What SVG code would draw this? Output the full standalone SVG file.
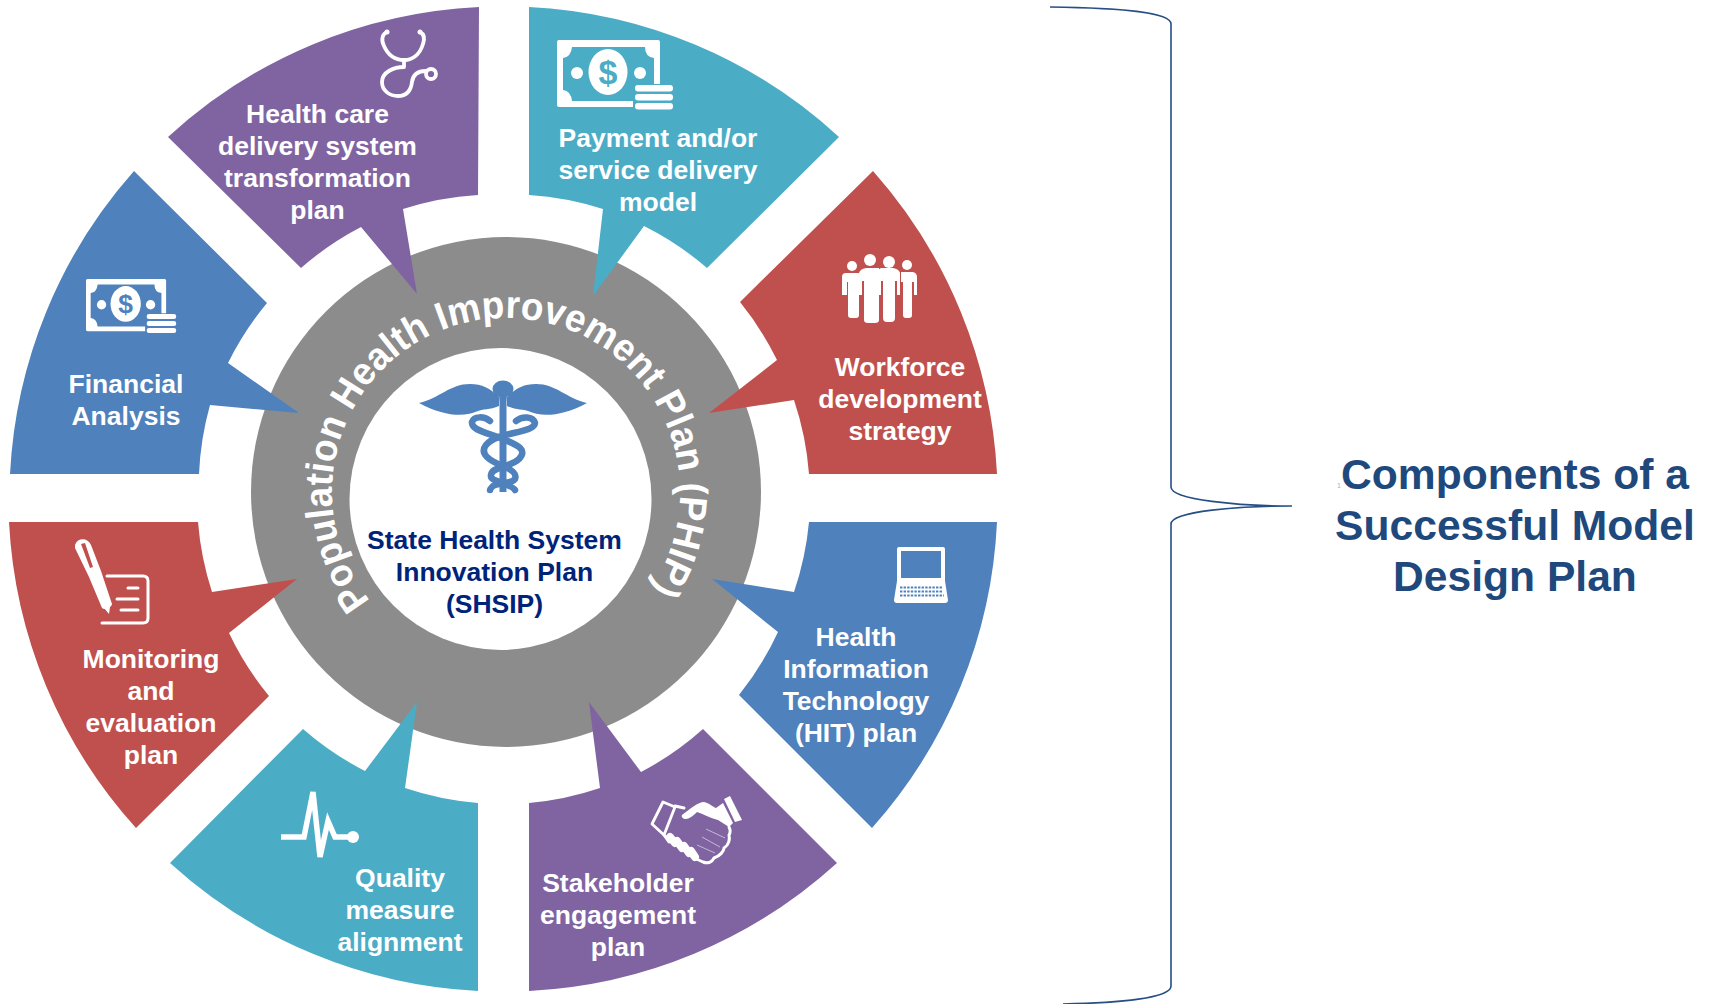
<svg xmlns="http://www.w3.org/2000/svg" xmlns:xlink="http://www.w3.org/1999/xlink" width="1709" height="1004" viewBox="0 0 1709 1004">
<style>
text{font-family:"Liberation Sans",Arial,sans-serif;font-weight:700}
.l{fill:#fff;font-size:26.5px;text-anchor:middle}
.c{fill:#00237a;font-size:26.5px;text-anchor:middle}
.r{fill:#1f497d;font-size:42.6px;text-anchor:middle}
.ic{fill:none;stroke:#fff;stroke-linecap:round;stroke-linejoin:round}
.w{fill:#fff}
.sn{fill:none;stroke:#4f81bd;stroke-width:6.500;stroke-linecap:round}
</style>
<defs>
<symbol id="money" viewBox="0 0 117 68" overflow="visible">
<rect x="0" y="0" width="103" height="67" rx="2" fill="#fff"/>
<path fill="currentColor" d="M15,7 H88 Q88,17 97,18 V50 H80 V61 H15 Q14,51 6,50 V18 Q14,17 15,7Z"/>
<ellipse cx="51" cy="32" rx="19.500" ry="23" fill="#fff"/>
<circle cx="20" cy="33" r="6" fill="#fff"/>
<circle cx="83" cy="33" r="6" fill="#fff"/>
<text x="51" y="44" text-anchor="middle" font-size="34" style="fill:currentColor">$</text>
<rect x="76" y="44" width="41" height="24" fill="currentColor"/>
<rect x="78" y="45" width="38" height="6.500" rx="3" fill="#fff"/>
<rect x="78" y="54" width="38" height="6.500" rx="3" fill="#fff"/>
<rect x="78" y="63" width="38" height="6.500" rx="3" fill="#fff"/>
</symbol>
</defs>
<rect width="1709" height="1004" fill="#fff"/>

<g id="hub">
<circle cx="506" cy="492" r="255" fill="#8c8c8c"/>
<circle cx="500.500" cy="499" r="151" fill="#fff"/>
<path id="arc" d="M370.400,601 A174 174 0 1 1 617.800,625.300" fill="none"/>
<text fill="#fff" font-size="39"><textPath href="#arc" xlink:href="#arc" textLength="766" lengthAdjust="spacingAndGlyphs">Population Health Improvement Plan (PHIP)</textPath></text>
<g id="caduceus" fill="#4f81bd">
<path d="M419,403 C440,398 450,384 470,384 C482,384 490,388 499,397 L499,406 C490,410 482,409 478,411 C465,417 445,417 419,403Z"/>
<path d="M587,403 C566,398 556,384 536,384 C524,384 516,388 507,397 L507,406 C516,410 524,409 528,411 C541,417 561,417 587,403Z"/>
<ellipse cx="503" cy="389" rx="10.500" ry="8.500"/>
<path d="M499,394 H507 L506.500,402 V492 H499.500 V402Z"/>
<path class="sn" d="M490,421 C484,416 474,416 472,422 C471,431 490,433 503,439 C520,446 527,450 519,459 C510,468 492,466 491,475 C490,480 498,481 503,483 C510,486 514,488 515,490"/>
<path class="sn" d="M516,421 C522,416 533,416 535,423 C534,434 497,431 486,445 C479,454 490,461 503,466 C513,470 517,474 515,479 C512,484 500,482 493,486 C491,488 490,489 490,490"/>
</g>
<text class="c" x="494.500" y="549">State Health System</text>
<text class="c" x="494.500" y="581">Innovation Plan</text>
<text class="c" x="494.500" y="613">(SHSIP)</text>
</g>

<g id="node-delivery">
<path fill="#8064a2" d="M479,7 A494 494 0 0 0 168,137 L301,268 A305 305 0 0 1 361,227 L417,294 L403,209 A305 305 0 0 1 478,195Z"/>
<g class="ic" stroke-width="3.800"><path d="M387,32 C382,34 381,40 384,46 C388,55 394,60 404,60 C413,60 420,54 423,44 C425,38 424,34 420,32"/><path d="M404,60 V67 C394,67 382,72 382,82 C382,91 390,96 398,96 C407,96 411,90 412,82 C413,74 418,71 426,71"/><circle cx="431" cy="74" r="5"/></g>
<circle class="w" cx="387" cy="32" r="2.500"/><circle class="w" cx="420" cy="32" r="2.500"/>
<text class="l" x="317.500" y="123">Health care</text>
<text class="l" x="317.500" y="155">delivery system</text>
<text class="l" x="317.500" y="187">transformation</text>
<text class="l" x="317.500" y="219">plan</text>
</g>

<g id="node-payment">
<path fill="#4bacc6" d="M529,7 A494 494 0 0 1 839,137 L707,268 A305 305 0 0 0 644,226 L593,296 L603,209 A305 305 0 0 0 529,195Z"/>
<use href="#money" xlink:href="#money" x="557" y="40" width="117" height="68" color="#4bacc6"/>
<text class="l" x="658" y="147">Payment and/or</text>
<text class="l" x="658" y="179">service delivery</text>
<text class="l" x="658" y="211">model</text>
</g>

<g id="node-workforce">
<path fill="#c0504d" d="M873,171 A494 494 0 0 1 997,474 L809,474 A305 305 0 0 0 794,400 L709,413 L777,360 A305 305 0 0 0 740,302Z"/>
<g class="w">
<circle cx="852" cy="266" r="5"/><circle cx="870" cy="260" r="6"/><circle cx="889" cy="262" r="6"/><circle cx="907" cy="265" r="5"/>
<path d="M846,273 H859 V315 Q859,318 856,318 H851 Q848,318 848,315 V282 H847 V295 H842 V277 Q842,273 846,273Z"/>
<path d="M866,268 H879 V277 V320 Q879,323 875,323 H868 Q864,323 864,320 V281 H862 V295 H859 V273 Q860,269 866,268Z"/>
<path d="M881,268 H893 Q899,269 900,273 V295 H897 V281 H895 V318 Q895,322 891,322 H887 Q883,322 883,318 V281 H881 V295 H878 V273 Q878,269 881,268Z"/>
<path d="M901,272 H913 Q917,273 917,277 V295 H914 V282 H912 V315 Q912,318 909,318 H906 Q903,318 903,315 V282 H901 Z"/>
</g>
<text class="l" x="900" y="376">Workforce</text>
<text class="l" x="900" y="408">development</text>
<text class="l" x="900" y="440">strategy</text>
</g>

<g id="node-hit">
<path fill="#4f81bd" d="M997,522 L809,522 A305 305 0 0 1 794,592 L712,579 L778,632 A305 305 0 0 1 739,695 L872,828 A494 494 0 0 0 997,522Z"/>
<path class="w" fill-rule="evenodd" d="M899,547 H943 Q945,547 945,549 V581 L948,600 Q948,603 945,603 H897 Q894,603 894,600 L897,581 V549 Q897,547 899,547Z M901,551 V578 H941 V551Z"/>
<g stroke="#4f81bd" stroke-width="2.200" stroke-dasharray="2.400 1.200" fill="none"><path d="M900,587.500 H942"/><path d="M900,591.500 H943"/><path d="M900,595.500 H944"/></g>
<text class="l" x="856" y="646">Health</text>
<text class="l" x="856" y="678">Information</text>
<text class="l" x="856" y="710">Technology</text>
<text class="l" x="856" y="742">(HIT) plan</text>
</g>

<g id="node-stakeholder">
<path fill="#8064a2" d="M529,991 L529,803 A305 305 0 0 0 600,788 L589,702 L641,772 A305 305 0 0 0 703,729 L837,863 A494 494 0 0 1 529,991Z"/>
<path class="ic" stroke-width="2.800" d="M663,802 L652,824 L664,835 L675,807Z"/>
<path class="ic" stroke-width="3" d="M675,806 L684,808 M664,835 L669,842 M692,857 L703,862 C708,864 712,862 714,858 C720,856 724,851 724,848 C729,845 730,839 729,835 C731,832 730,829 729,827"/>
<path class="w" d="M682,815 C690,809 698,802 704,802 C709,803 713,807 716,808 L723,803 L733,823 L729,827 L718,820 C710,818 703,814 697,812 C693,816 689,819 686,819 C683,819 681,817 682,815Z"/>
<path class="w" d="M730,796 L742,820 L735,822 L724,799Z"/>
<g class="ic" stroke-width="8"><path d="M670,837 L675,843"/><path d="M677,841 L682,848"/><path d="M684,846 L689,853"/><path d="M691,851 L695,857"/></g>
<g stroke="#c5b8d6" stroke-width="1"><path d="M706,829 L725,838"/><path d="M702,837 L720,847"/><path d="M697,845 L715,853"/></g>
<text class="l" x="618" y="892">Stakeholder</text>
<text class="l" x="618" y="924">engagement</text>
<text class="l" x="618" y="956">plan</text>
</g>

<g id="node-quality">
<path fill="#4bacc6" d="M478,991 L478,803 A305 305 0 0 1 405,788 L417,702 L365,771 A305 305 0 0 1 303,729 L170,863 A494 494 0 0 0 478,991Z"/>
<path fill="none" stroke="#fff" stroke-width="5.500" stroke-linejoin="miter" d="M281,837 H304 L313,792 L320,857 L328,821 L335,837 H352"/>
<circle class="w" cx="353" cy="837" r="6"/>
<text class="l" x="400" y="887">Quality</text>
<text class="l" x="400" y="919">measure</text>
<text class="l" x="400" y="951">alignment</text>
</g>

<g id="node-monitoring">
<path fill="#c0504d" d="M9,522 L198,522 A305 305 0 0 0 212,592 L297,579 L229,633 A305 305 0 0 0 269,696 L136,828 A494 494 0 0 1 9,522Z"/>
<path class="w" fill-rule="evenodd" d="M75,545 C78,537 88,538 91,545 L101,571 L112,604 C112,607 105,611 102,608 L89,577 L75,548Z M81,544 L90,568 L93,567 L85,543Z"/>
<path class="w" d="M104,608 L110,607 L109,614Z"/>
<path class="ic" stroke-width="3" d="M107,576 H143 Q148,576 148,581 V618 Q148,623 143,623 H102"/>
<path class="ic" stroke-width="3" d="M128,588 H138 M117,599 H138 M121,610 H138"/>
<text class="l" x="151" y="668">Monitoring</text>
<text class="l" x="151" y="700">and</text>
<text class="l" x="151" y="732">evaluation</text>
<text class="l" x="151" y="764">plan</text>
</g>

<g id="node-financial">
<path fill="#4f81bd" d="M134,171 A494 494 0 0 0 10,474 L199,474 A305 305 0 0 1 210,405 L299,413 L228,363 A305 305 0 0 1 267,303Z"/>
<use href="#money" xlink:href="#money" x="86" y="279" width="91" height="53" color="#4f81bd"/>
<text class="l" x="126" y="393">Financial</text>
<text class="l" x="126" y="425">Analysis</text>
</g>

<g id="connectors">
<path fill="none" stroke="#264f86" stroke-width="1.600" d="M1050,7 C1120,8 1171,12 1171,24 V487 C1171,500 1240,506 1292,506 C1240,506 1171,511 1171,524 V986 C1171,998 1120,1003 1063,1004"/>
</g>

<g id="caption">
<text x="1339" y="488" font-size="7" fill="#9fb4cc" style="font-weight:400" text-anchor="middle">1</text>
<text class="r" x="1515" y="489">Components of a</text>
<text class="r" x="1515" y="540">Successful Model</text>
<text class="r" x="1515" y="591">Design Plan</text>
</g>
</svg>
